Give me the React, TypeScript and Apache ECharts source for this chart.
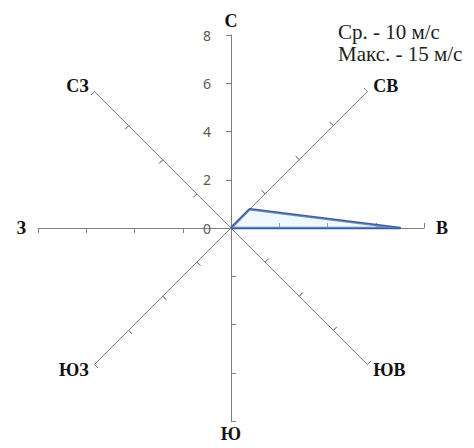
import React, { useEffect, useRef } from 'react';
import * as echarts from 'echarts';

// Directions listed counter-clockwise from north (ECharts radar order)
const directions = ['С', 'СЗ', 'З', 'ЮЗ', 'Ю', 'ЮВ', 'В', 'СВ'];
const frequencies = [0, 0, 0, 0, 0, 0, 7, 1.1];
const axisMin = 0;
const axisMax = 8;
const tickStep = 2;
const notes = ['Ср. - 10 м/с', 'Макс. - 15 м/с'];

const nameGaps: Record<string, number> = {
  'С': 5, 'СЗ': 8, 'З': 12, 'ЮЗ': 8, 'Ю': 4, 'ЮВ': 8, 'В': 12, 'СВ': 8,
};

const CX = 231;
const CY = 228;
const R = 193;

export default function App() {
  const ref = useRef<HTMLDivElement>(null);
  useEffect(() => {
    document.body.style.margin = '0';
    const chart = echarts.init(ref.current!, null, { renderer: 'svg' });
    const nameStyle = {
      color: '#111',
      fontFamily: 'Liberation Serif',
      fontWeight: 'bold',
      fontSize: 18,
    };
    const baseRadar = {
      center: [CX, CY],
      radius: R,
      startAngle: 90,
      shape: 'polygon',
      splitNumber: (axisMax - axisMin) / tickStep,
      splitLine: { show: false },
      splitArea: { show: false },
      axisLabel: { show: false },
    };
    chart.setOption({
      animation: false,
      backgroundColor: '#ffffff',
      grid: { left: CX, top: CY - R, width: 1, height: R, containLabel: false },
      xAxis: { type: 'value', show: false, min: 0, max: 1 },
      yAxis: {
        type: 'value',
        min: axisMin,
        max: axisMax,
        interval: tickStep,
        axisLine: { show: false },
        axisTick: { show: false },
        splitLine: { show: false },
        axisLabel: {
          color: '#595959',
          fontFamily: 'Noto Sans',
          fontSize: 14,
          margin: 20,
        },
      },
      radar: [
        {
          ...baseRadar,
          axisName: nameStyle,
          axisLine: { show: true, lineStyle: { color: '#7f7f7f', width: 1 } },
          axisTick: { show: true, length: 5, lineStyle: { color: '#7f7f7f', width: 1 } },
          indicator: directions.map((d) => ({
            name: d,
            min: axisMin,
            max: axisMax,
            nameGap: nameGaps[d],
          })),
        },
        {
          ...baseRadar,
          axisName: { show: false },
          axisLine: { show: false },
          axisTick: { show: true, inside: true, length: 5, lineStyle: { color: '#7f7f7f', width: 1 } },
          indicator: directions.map((d) => ({ name: d, min: axisMin, max: axisMax })),
        },
      ],
      graphic: notes.map((t, i) => ({
        type: 'text',
        left: 338,
        top: 21 + i * 22,
        style: {
          text: t,
          fill: '#222',
          font: '21px "Liberation Serif"',
        },
      })),
      series: [
        {
          type: 'radar',
          radarIndex: 0,
          symbol: 'none',
          data: [
            {
              value: frequencies,
              lineStyle: { color: '#3a5b9b', width: 2.5 },
              areaStyle: { color: 'rgba(200,232,248,0.45)' },
            },
          ],
        },
      ],
    });
    return () => chart.dispose();
  }, []);
  return <div ref={ref} style={{ width: 474, height: 448 }} />;
}
